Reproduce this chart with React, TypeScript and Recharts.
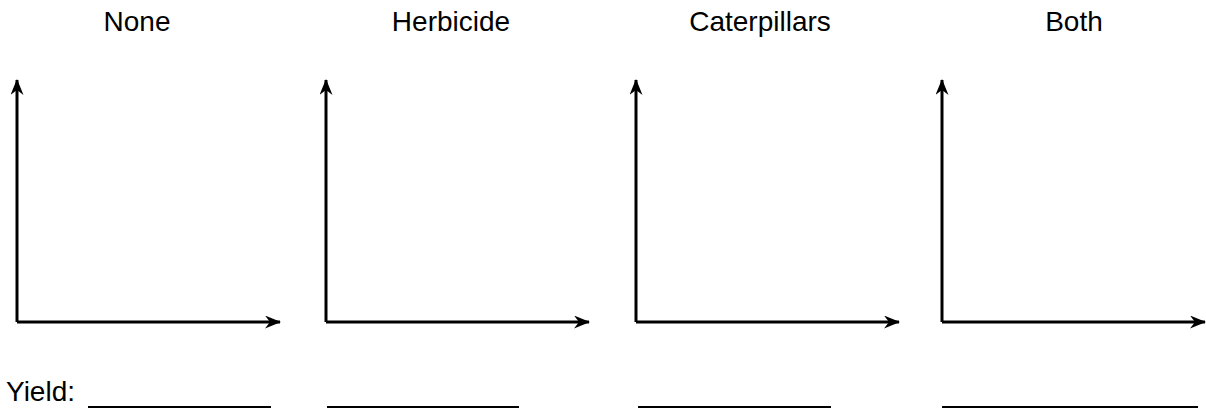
import { LineChart, Line, XAxis, YAxis } from 'recharts';

// panel headings, left to right
const TREATMENTS = ['None', 'Herbicide', 'Caterpillars', 'Both'];
// empty axes: only the frame is drawn, students fill in the rest
const AXIS_POINTS = [
  { x: 0, y: 0 },
  { x: 1, y: 1 },
];
const X_DOMAIN = [0, 1];
const Y_DOMAIN = [0, 1];
const YIELD_LABEL = 'Yield:';

const FONT = 'Arial, "Liberation Sans", Helvetica, sans-serif';
const FS = 28;

// layout (pixels)
const AXIS_X = [17, 326, 636, 942];
const TITLE_CX = [137, 451, 760, 1074];
const BLANKS: [number, number][] = [[88, 271], [327, 519], [638, 831], [942, 1198]];
const AXIS_TOP = 80;
const AXIS_BOTTOM = 322;
const AXIS_LEN = 263;
const PAD = 10;

const axisLine = {
  stroke: '#000',
  strokeWidth: 3,
};

function Panel({ left }: { left: number }) {
  return (
    <div style={{ position: 'absolute', left: left - PAD, top: AXIS_TOP - PAD }}>
      <LineChart
        width={AXIS_LEN + PAD * 2}
        height={AXIS_BOTTOM - AXIS_TOP + PAD * 2}
        data={AXIS_POINTS}
        margin={{ top: PAD, right: PAD, bottom: PAD - 1, left: PAD - 1 }}
      >
        <XAxis
          type="number"
          dataKey="x"
          domain={X_DOMAIN}
          height={1}
          tick={false}
          tickLine={false}
          axisLine={{ ...axisLine, markerEnd: 'url(#arrowHead)' }}
        />
        <YAxis
          type="number"
          dataKey="y"
          domain={Y_DOMAIN}
          width={1}
          tick={false}
          tickLine={false}
          axisLine={{ ...axisLine, markerStart: 'url(#arrowHead)' }}
        />
        <Line dataKey="y" stroke="none" dot={false} activeDot={false} isAnimationActive={false} />
      </LineChart>
    </div>
  );
}

export default function App() {
  return (
    <div
      style={{
        position: 'absolute', left: 0, top: 0, width: 1206, height: 408,
        background: '#fff', fontFamily: FONT, fontSize: FS, lineHeight: `${FS}px`, color: '#000',
        overflow: 'hidden',
      }}
    >
      <svg width={0} height={0} style={{ position: 'absolute' }}>
        <defs>
          <marker
            id="arrowHead"
            viewBox="0 0 16 13"
            refX={15}
            refY={6.5}
            markerWidth={16}
            markerHeight={13}
            markerUnits="userSpaceOnUse"
            orient="auto-start-reverse"
          >
            <path d="M0,0 L16,6.5 L0,13 L5,6.5 z" fill="#000" />
          </marker>
        </defs>
      </svg>

      {TREATMENTS.map((t, i) => (
        <div
          key={t}
          style={{ position: 'absolute', top: 8.3, left: TITLE_CX[i] - 100, width: 200, textAlign: 'center' }}
        >
          {t}
        </div>
      ))}

      {AXIS_X.map((x, i) => (
        <Panel key={i} left={x} />
      ))}

      <div style={{ position: 'absolute', top: 378.3, left: 6 }}>{YIELD_LABEL}</div>
      {BLANKS.map(([a, b], i) => (
        <div
          key={i}
          style={{ position: 'absolute', top: 406, left: a, width: b - a, height: 2, background: '#000' }}
        />
      ))}
    </div>
  );
}
